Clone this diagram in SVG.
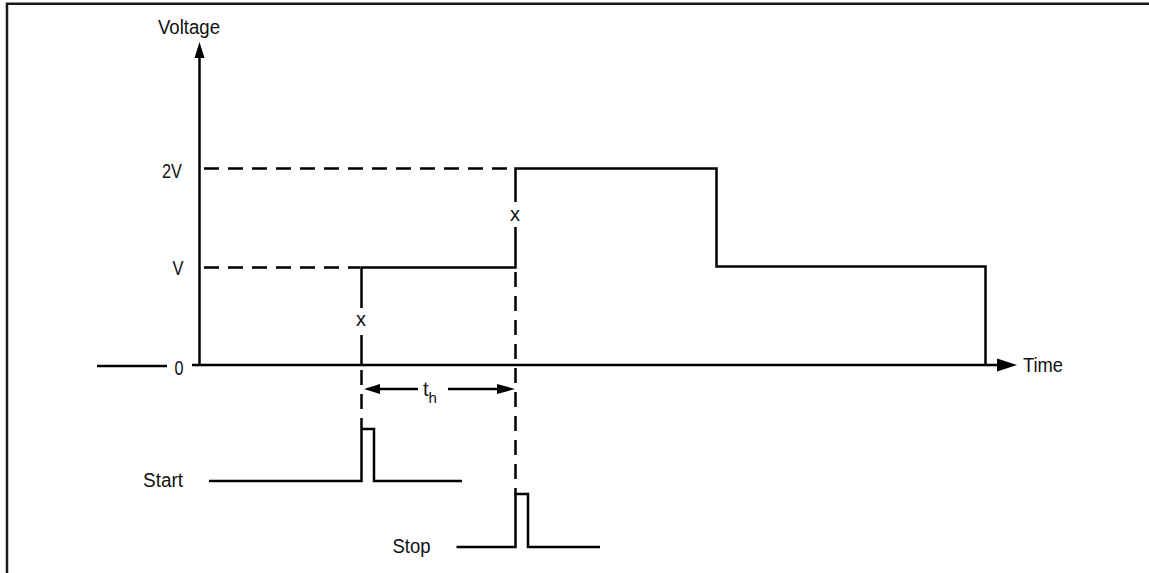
<svg xmlns="http://www.w3.org/2000/svg" width="1149" height="573" viewBox="0 0 1149 573">
<style>
.ln{fill:none;stroke:#000;stroke-width:2.5;stroke-linecap:butt;stroke-linejoin:miter}
.ds{fill:none;stroke:#000;stroke-width:2.5;stroke-dasharray:15 9}
.frame{fill:none;stroke:#1a1a1a;stroke-width:2.5}
.t{font-family:"Liberation Sans",Arial,sans-serif;font-size:20px;fill:#111}
.hd{fill:#000}
</style>
<rect width="1149" height="573" fill="#fff"/>
<g id="frame"><path class="frame" d="M7,573 V3.7 H1149"/></g>
<g id="axes">
<path class="ln" d="M199.5,365 V56" />
<polygon class="hd" points="199.5,42 194.5,58 204.5,58"/>
<path class="ln" d="M192,365 H999"/>
<polygon class="hd" points="1017,365 997,358.5 997,371.5"/>
<path class="ln" d="M97,366 H167"/>
<text class="t" x="158" y="34" textLength="62" lengthAdjust="spacingAndGlyphs">Voltage</text>
<text class="t" x="1023" y="372" textLength="40" lengthAdjust="spacingAndGlyphs">Time</text>
<text class="t" x="162" y="178" textLength="20" lengthAdjust="spacingAndGlyphs">2V</text>
<text class="t" x="172.5" y="275" textLength="11" lengthAdjust="spacingAndGlyphs">V</text>
<text class="t" x="174.5" y="375" textLength="9" lengthAdjust="spacingAndGlyphs">0</text>
</g>
<g id="waveform">
<path class="ln" d="M361.5,365 V335 M361.5,308 V267.5 H515.5 V227 M515.5,202 V168.5 H716.5 V266.5 H985.5 V365"/>
<text class="t" x="361" y="326" text-anchor="middle">x</text>
<text class="t" x="515" y="221" text-anchor="middle">x</text>
</g>
<g id="connectors">
<path class="ds" d="M204,168.5 H514"/>
<path class="ds" d="M204,267.5 H360"/>
<path class="ds" d="M361.5,370 V428"/>
<path class="ds" d="M515.5,272 V494"/>
<path class="ln" d="M378,389 H418"/>
<polygon class="hd" points="364,389 380,384 380,394"/>
<path class="ln" d="M448,389 H500"/>
<polygon class="hd" points="515,389 497,384 497,394"/>
<text class="t" x="423" y="396">t<tspan font-size="15" dy="7">h</tspan></text>
</g>
<g id="start">
<path class="ln" d="M209,481 H361.5 V429 H374 V481 H462"/>
<text class="t" x="143" y="487" textLength="40" lengthAdjust="spacingAndGlyphs">Start</text>
</g>
<g id="stop">
<path class="ln" d="M456.5,547 H515.5 V494 H528 V547 H600"/>
<text class="t" x="392.5" y="553" textLength="38" lengthAdjust="spacingAndGlyphs">Stop</text>
</g>
</svg>
